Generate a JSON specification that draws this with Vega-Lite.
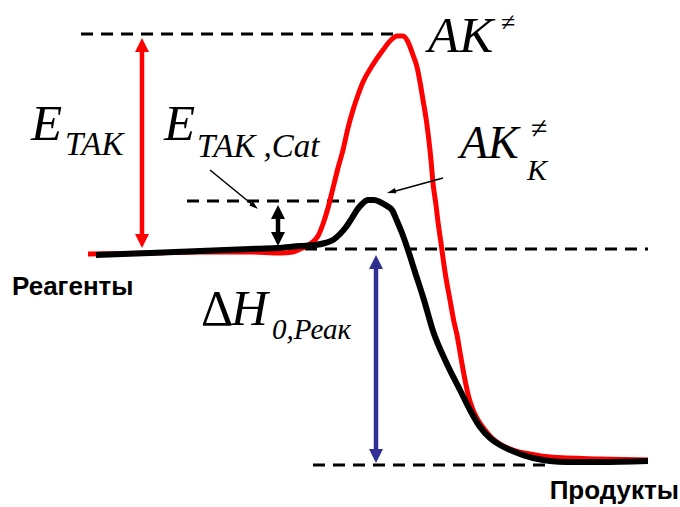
{
  "$schema": "https://vega.github.io/schema/vega-lite/v6.json",
  "width": 680,
  "height": 507,
  "autosize": {"type": "fit", "contains": "padding"},
  "padding": 0,
  "background": "#ffffff",
  "config": {"view": {"stroke": null}, "font": "Liberation Serif", "text": {"font": "Liberation Serif"}},
  "datasets": {
    "curves": [
      {"curve": "red", "x": 88, "e": 253}, {"curve": "red", "x": 150, "e": 254}, {"curve": "red", "x": 200, "e": 255}, {"curve": "red", "x": 250, "e": 255}, {"curve": "red", "x": 280, "e": 254}, {"curve": "red", "x": 293, "e": 255}, {"curve": "red", "x": 300, "e": 258}, {"curve": "red", "x": 310, "e": 263}, {"curve": "red", "x": 318, "e": 271}, {"curve": "red", "x": 323, "e": 283}, {"curve": "red", "x": 328, "e": 299}, {"curve": "red", "x": 333, "e": 319}, {"curve": "red", "x": 338, "e": 339}, {"curve": "red", "x": 343, "e": 357}, {"curve": "red", "x": 348, "e": 379}, {"curve": "red", "x": 353, "e": 397}, {"curve": "red", "x": 358, "e": 412}, {"curve": "red", "x": 363, "e": 425}, {"curve": "red", "x": 372, "e": 441}, {"curve": "red", "x": 383, "e": 457}, {"curve": "red", "x": 391, "e": 467}, {"curve": "red", "x": 397, "e": 471}, {"curve": "red", "x": 403, "e": 471}, {"curve": "red", "x": 408, "e": 465}, {"curve": "red", "x": 413, "e": 452}, {"curve": "red", "x": 417, "e": 440}, {"curve": "red", "x": 420, "e": 425}, {"curve": "red", "x": 423, "e": 407}, {"curve": "red", "x": 426, "e": 389}, {"curve": "red", "x": 428, "e": 374}, {"curve": "red", "x": 431, "e": 347}, {"curve": "red", "x": 433, "e": 324}, {"curve": "red", "x": 436, "e": 302}, {"curve": "red", "x": 438, "e": 285}, {"curve": "red", "x": 441, "e": 264}, {"curve": "red", "x": 443, "e": 249}, {"curve": "red", "x": 446, "e": 229}, {"curve": "red", "x": 450, "e": 207}, {"curve": "red", "x": 454, "e": 185}, {"curve": "red", "x": 457, "e": 172}, {"curve": "red", "x": 461, "e": 149}, {"curve": "red", "x": 465, "e": 127}, {"curve": "red", "x": 469, "e": 109}, {"curve": "red", "x": 473, "e": 97}, {"curve": "red", "x": 478, "e": 87}, {"curve": "red", "x": 485, "e": 77}, {"curve": "red", "x": 492, "e": 69}, {"curve": "red", "x": 500, "e": 63}, {"curve": "red", "x": 513, "e": 57}, {"curve": "red", "x": 530, "e": 53}, {"curve": "red", "x": 550, "e": 50}, {"curve": "red", "x": 600, "e": 48}, {"curve": "red", "x": 648, "e": 47},
      {"curve": "black", "x": 96, "e": 252}, {"curve": "black", "x": 150, "e": 254}, {"curve": "black", "x": 200, "e": 256}, {"curve": "black", "x": 250, "e": 258}, {"curve": "black", "x": 277, "e": 259}, {"curve": "black", "x": 300, "e": 261}, {"curve": "black", "x": 315, "e": 262}, {"curve": "black", "x": 325, "e": 264}, {"curve": "black", "x": 333, "e": 267}, {"curve": "black", "x": 340, "e": 273}, {"curve": "black", "x": 346, "e": 280}, {"curve": "black", "x": 352, "e": 289}, {"curve": "black", "x": 357, "e": 297}, {"curve": "black", "x": 362, "e": 303}, {"curve": "black", "x": 368, "e": 307}, {"curve": "black", "x": 374, "e": 307}, {"curve": "black", "x": 380, "e": 305}, {"curve": "black", "x": 387, "e": 301}, {"curve": "black", "x": 392, "e": 297}, {"curve": "black", "x": 397, "e": 286}, {"curve": "black", "x": 402, "e": 274}, {"curve": "black", "x": 408, "e": 257}, {"curve": "black", "x": 415, "e": 235}, {"curve": "black", "x": 424, "e": 207}, {"curve": "black", "x": 433, "e": 176}, {"curve": "black", "x": 446, "e": 145}, {"curve": "black", "x": 460, "e": 117}, {"curve": "black", "x": 470, "e": 97}, {"curve": "black", "x": 480, "e": 80}, {"curve": "black", "x": 490, "e": 69}, {"curve": "black", "x": 500, "e": 62}, {"curve": "black", "x": 515, "e": 55}, {"curve": "black", "x": 533, "e": 49}, {"curve": "black", "x": 567, "e": 45}, {"curve": "black", "x": 600, "e": 45}, {"curve": "black", "x": 648, "e": 46}
    ],
    "dashes": [
      {"x": 81, "x2": 398, "e": 473},
      {"x": 187, "x2": 355, "e": 306},
      {"x": 305, "x2": 648, "e": 258},
      {"x": 313, "x2": 553, "e": 42}
    ],
    "shafts": [
      {"name": "red", "x": 142, "e1": 460, "e2": 268},
      {"name": "black", "x": 278, "e1": 294, "e2": 269},
      {"name": "blue", "x": 376, "e1": 243, "e2": 53}
    ],
    "heads": [
      {"name": "red", "dir": "up", "x": 142, "e": 469},
      {"name": "red", "dir": "down", "x": 142, "e": 259},
      {"name": "black", "dir": "up", "x": 278, "e": 302},
      {"name": "black", "dir": "down", "x": 278, "e": 261},
      {"name": "blue", "dir": "up", "x": 376, "e": 252},
      {"name": "blue", "dir": "down", "x": 376, "e": 44}
    ],
    "pointers": [
      {"id": "cat", "x": 210, "e": 337, "x2": 254, "e2": 301, "tx": 258, "te": 298},
      {"id": "akk", "x": 443, "e": 329, "x2": 392, "e2": 315, "tx": 387, "te": 314}
    ],
    "labels": [
      {"kind": "big", "x": 31, "e": 367, "text": "E"},
      {"kind": "big", "x": 164, "e": 367, "text": "E"},
      {"kind": "big", "x": 428, "e": 455, "text": "AK"},
      {"kind": "mid", "x": 460, "e": 349, "text": "AK"},
      {"kind": "sub", "x": 65, "e": 352, "text": "ТАК"},
      {"kind": "sub", "x": 197, "e": 350, "text": "ТАК ,Cat"},
      {"kind": "subk", "x": 527, "e": 327, "text": "K"},
      {"kind": "ne1", "x": 501, "e": 476, "text": "≠"},
      {"kind": "ne2", "x": 531, "e": 369, "text": "≠"},
      {"kind": "delta", "x": 201, "e": 182, "text": "Δ"},
      {"kind": "big", "x": 231, "e": 182, "text": "H"},
      {"kind": "hsub", "x": 272, "e": 168, "text": "0,Реак"},
      {"kind": "sansL", "x": 12, "e": 212, "text": "Реагенты"},
      {"kind": "sansR", "x": 679, "e": 8, "text": "Продукты"}
    ]
  },
  "encoding": {
    "x": {"field": "x", "type": "quantitative", "axis": null, "scale": {"domain": [0, 680], "nice": false, "zero": false}},
    "y": {"field": "e", "type": "quantitative", "axis": null, "scale": {"domain": [0, 507], "nice": false, "zero": false}}
  },
  "layer": [
    {
      "data": {"name": "dashes"},
      "mark": {"type": "rule", "color": "#000000", "strokeWidth": 3, "strokeDash": [12, 8]},
      "encoding": {"x2": {"field": "x2"}}
    },
    {
      "data": {"name": "curves"},
      "transform": [{"filter": "datum.curve === 'red'"}],
      "mark": {"type": "line", "color": "#ff0000", "strokeWidth": 5, "interpolate": "monotone"},
      "encoding": {"order": {"field": "x", "type": "quantitative"}}
    },
    {
      "data": {"name": "curves"},
      "transform": [{"filter": "datum.curve === 'black'"}],
      "mark": {"type": "line", "color": "#000000", "strokeWidth": 6, "interpolate": "monotone"},
      "encoding": {"order": {"field": "x", "type": "quantitative"}}
    },
    {
      "data": {"name": "shafts"},
      "mark": {"type": "rule", "strokeWidth": 4.5},
      "encoding": {
        "y": {"field": "e1", "type": "quantitative"},
        "y2": {"field": "e2"},
        "color": {"field": "name", "type": "nominal", "scale": {"domain": ["red", "black", "blue"], "range": ["#ff0000", "#000000", "#2e3192"]}, "legend": null}
      }
    },
    {
      "data": {"name": "heads"},
      "mark": {"type": "point", "filled": true, "opacity": 1, "size": 196, "strokeWidth": 0},
      "encoding": {
        "shape": {"field": "dir", "type": "nominal", "scale": {"domain": ["up", "down"], "range": ["M0,0L-1,2L1,2Z", "M0,0L-1,-2L1,-2Z"]}, "legend": null},
        "color": {"field": "name", "type": "nominal", "legend": null}
      }
    },
    {
      "data": {"name": "pointers"},
      "mark": {"type": "rule", "color": "#000000", "strokeWidth": 1.5},
      "encoding": {"x2": {"field": "x2"}, "y2": {"field": "e2"}}
    },
    {
      "data": {"name": "pointers"},
      "transform": [{"filter": "datum.id === 'cat'"}],
      "mark": {"type": "point", "filled": true, "opacity": 1, "color": "#000000", "size": 81, "strokeWidth": 0, "shape": "M0,0L-0.6,2L0.6,2Z", "angle": 129},
      "encoding": {"x": {"field": "tx", "type": "quantitative"}, "y": {"field": "te", "type": "quantitative"}}
    },
    {
      "data": {"name": "pointers"},
      "transform": [{"filter": "datum.id === 'akk'"}],
      "mark": {"type": "point", "filled": true, "opacity": 1, "color": "#000000", "size": 81, "strokeWidth": 0, "shape": "M0,0L-0.6,2L0.6,2Z", "angle": 255},
      "encoding": {"x": {"field": "tx", "type": "quantitative"}, "y": {"field": "te", "type": "quantitative"}}
    },
    {
      "data": {"name": "labels"},
      "transform": [{"filter": "datum.kind === 'big'"}],
      "mark": {"type": "text", "fontStyle": "italic", "fontSize": 51, "align": "left", "baseline": "alphabetic", "color": "#000000"},
      "encoding": {"text": {"field": "text"}}
    },
    {
      "data": {"name": "labels"},
      "transform": [{"filter": "datum.kind === 'mid'"}],
      "mark": {"type": "text", "fontStyle": "italic", "fontSize": 46, "align": "left", "baseline": "alphabetic", "color": "#000000"},
      "encoding": {"text": {"field": "text"}}
    },
    {
      "data": {"name": "labels"},
      "transform": [{"filter": "datum.kind === 'delta'"}],
      "mark": {"type": "text", "fontSize": 50, "align": "left", "baseline": "alphabetic", "color": "#000000"},
      "encoding": {"text": {"field": "text"}}
    },
    {
      "data": {"name": "labels"},
      "transform": [{"filter": "datum.kind === 'sub'"}],
      "mark": {"type": "text", "fontStyle": "italic", "fontSize": 33, "align": "left", "baseline": "alphabetic", "color": "#000000"},
      "encoding": {"text": {"field": "text"}}
    },
    {
      "data": {"name": "labels"},
      "transform": [{"filter": "datum.kind === 'subk'"}],
      "mark": {"type": "text", "fontStyle": "italic", "fontSize": 30, "align": "left", "baseline": "alphabetic", "color": "#000000"},
      "encoding": {"text": {"field": "text"}}
    },
    {
      "data": {"name": "labels"},
      "transform": [{"filter": "datum.kind === 'hsub'"}],
      "mark": {"type": "text", "fontStyle": "italic", "fontSize": 29, "align": "left", "baseline": "alphabetic", "color": "#000000"},
      "encoding": {"text": {"field": "text"}}
    },
    {
      "data": {"name": "labels"},
      "transform": [{"filter": "datum.kind === 'ne1'"}],
      "mark": {"type": "text", "fontSize": 26, "align": "left", "baseline": "alphabetic", "color": "#000000"},
      "encoding": {"text": {"field": "text"}}
    },
    {
      "data": {"name": "labels"},
      "transform": [{"filter": "datum.kind === 'ne2'"}],
      "mark": {"type": "text", "fontSize": 30, "align": "left", "baseline": "alphabetic", "color": "#000000"},
      "encoding": {"text": {"field": "text"}}
    },
    {
      "data": {"name": "labels"},
      "transform": [{"filter": "datum.kind === 'sansL'"}],
      "mark": {"type": "text", "font": "Liberation Sans", "fontWeight": "bold", "fontSize": 26, "align": "left", "baseline": "alphabetic", "color": "#000000"},
      "encoding": {"text": {"field": "text"}}
    },
    {
      "data": {"name": "labels"},
      "transform": [{"filter": "datum.kind === 'sansR'"}],
      "mark": {"type": "text", "font": "Liberation Sans", "fontWeight": "bold", "fontSize": 26, "align": "right", "baseline": "alphabetic", "color": "#000000"},
      "encoding": {"text": {"field": "text"}}
    }
  ]
}
